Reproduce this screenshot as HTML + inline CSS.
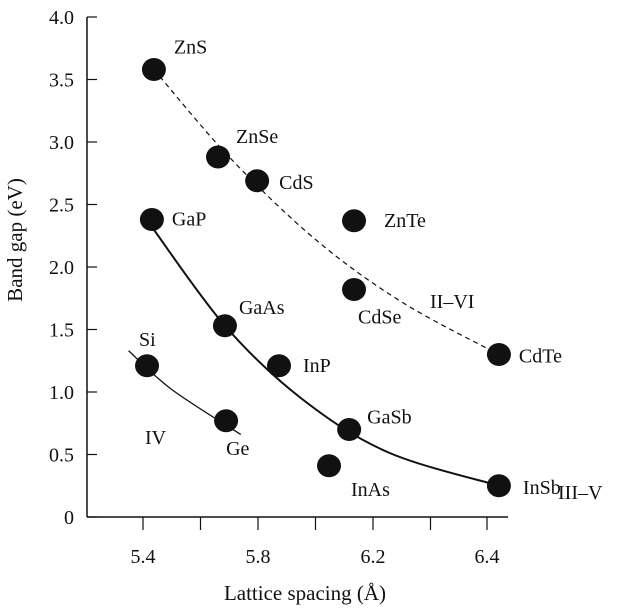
<!DOCTYPE html>
<html><head><meta charset="utf-8"><style>
body{margin:0;background:#fff}
svg{display:block}
text{font-family:"Liberation Serif",serif;fill:#111}
</style></head><body>
<svg id="c" width="633" height="609"></svg>
<script>
const names=["ZnS","ZnSe","CdS","ZnTe","CdSe","CdTe","GaP","GaAs","InP","GaSb","InAs","InSb","Si","Ge"];
const lattice=[5.438,5.661,5.797,6.134,6.134,6.638,5.431,5.685,5.873,6.117,6.047,6.638,5.414,5.689];
const gaps=[3.58,2.88,2.69,2.37,1.82,1.30,2.38,1.53,1.21,0.70,0.41,0.25,1.21,0.77];
const labelDx=[20,18,22,30,4,20,20,14,24,18,22,24,-8,0];
const labelDy=[-16,-14,8,6,34,8,6,-12,6,-6,30,8,-20,34];
const yTicks=[0,0.5,1.0,1.5,2.0,2.5,3.0,3.5,4.0];
const yTickLabels=["0","0.5","1.0","1.5","2.0","2.5","3.0","3.5","4.0"];
const xTicks=[5.4,5.6,5.8,6.0,6.2,6.4,6.6];
const xTickLabels=["5.4","","5.8","","6.2","","6.4"];
const curveIIVI_x=[5.438,5.70,6.00,6.30,6.638];
const curveIIVI_y=[3.58,2.88,2.22,1.72,1.30];
const curveIIIV_x=[5.431,5.685,5.95,6.25,6.638];
const curveIIIV_y=[2.32,1.53,0.95,0.52,0.25];
const curveIV_x=[5.35,5.50,5.74];
const curveIV_y=[1.33,1.02,0.66];
const X=v=>143+(v-5.4)*287.5, Y=v=>517-v*125;
const s=document.getElementById('c'),NS="http://www.w3.org/2000/svg";
function el(t,a,txt){const e=document.createElementNS(NS,t);for(const k in a)e.setAttribute(k,a[k]);if(txt!=null)e.textContent=txt;s.appendChild(e);return e;}
let e=el('line',{x1:87,y1:17,x2:87,y2:517,stroke:'#111','stroke-width':1.5});


e=el('line',{x1:87,y1:517,x2:508,y2:517,stroke:'#111','stroke-width':1.5});


yTicks.forEach((v,i)=>{el('line',{x1:87,y1:Y(v),x2:97,y2:Y(v),stroke:'#111','stroke-width':1.2});
 e=el('text',{x:74,y:Y(v)+7,'text-anchor':'end','font-size':20},yTickLabels[i]);
 
 });
xTicks.forEach((v,i)=>{const xx=i==6?487:X(v);el('line',{x1:xx,y1:517,x2:xx,y2:530,stroke:'#111','stroke-width':1.2});
 if(xTickLabels[i]){e=el('text',{x:xx,y:563,'text-anchor':'middle','font-size':20},xTickLabels[i]);
 
 }});
e=el('text',{x:305,y:600,'text-anchor':'middle','font-size':21},'Lattice spacing (Å)');


e=el('text',{x:22,y:240,'text-anchor':'middle','font-size':21,transform:'rotate(-90 22 240)'},'Band gap (eV)');


function curve(xs,ys){let p=xs.map((x,i)=>[X(x),Y(ys[i])]);let d='M'+p[0];
 for(let i=0;i<p.length-1;i++){const p0=p[i-1]||p[i],p1=p[i],p2=p[i+1],p3=p[i+2]||p2;
 d+=' C'+[p1[0]+(p2[0]-p0[0])/6,p1[1]+(p2[1]-p0[1])/6]+' '+[p2[0]-(p3[0]-p1[0])/6,p2[1]-(p3[1]-p1[1])/6]+' '+p2;}return d;}
e=el('path',{d:curve(curveIIVI_x,curveIIVI_y),fill:'none',stroke:'#111','stroke-width':1.2,'stroke-dasharray':'5,4'});


e=el('path',{d:curve(curveIIIV_x,curveIIIV_y),fill:'none',stroke:'#111','stroke-width':2});


e=el('path',{d:curve(curveIV_x,curveIV_y),fill:'none',stroke:'#111','stroke-width':1.3});


names.forEach((n,i)=>{const cx=X(lattice[i]),cy=Y(gaps[i]);
 e=el('ellipse',{cx:cx,cy:cy,rx:12,ry:11.5,fill:'#111'});
 
 
 e=el('text',{x:cx+labelDx[i],y:cy+labelDy[i],'font-size':20},n);
 
 });
[["II–VI",430,308],["III–V",558,499],["IV",145,444]].forEach(g=>{e=el('text',{x:g[1],y:g[2],'font-size':20},g[0]);
 
 });
</script>
</body></html>
